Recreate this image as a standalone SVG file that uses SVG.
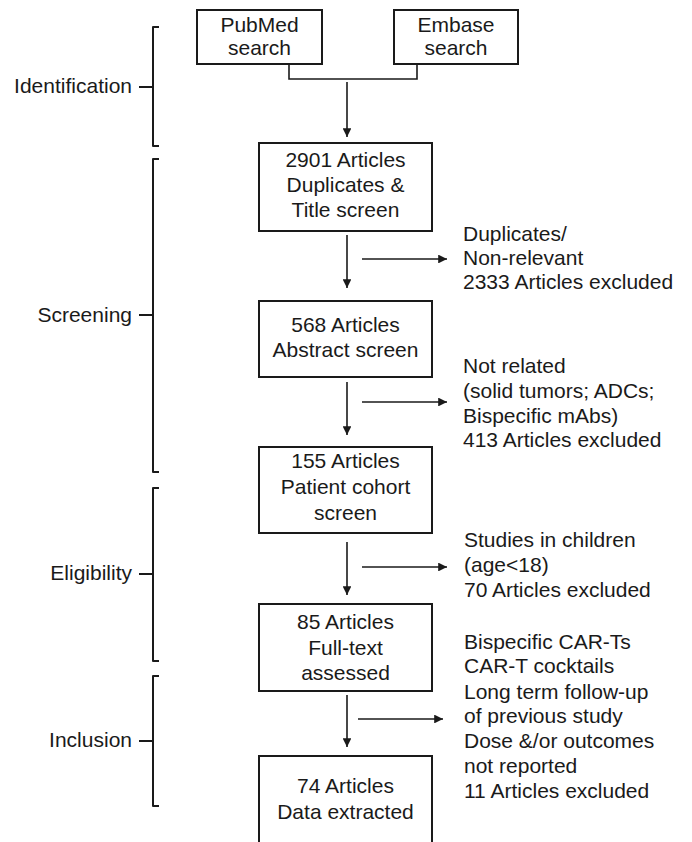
<svg xmlns="http://www.w3.org/2000/svg" width="692" height="842" viewBox="0 0 692 842">
<style>
text{font-family:"Liberation Sans",Arial,sans-serif;font-size:21px;fill:#1a1a1a}
.c{text-anchor:middle}
.r{text-anchor:end}
.box{fill:#fff;stroke:#1a1a1a;stroke-width:2}
.ln{fill:none;stroke:#1a1a1a;stroke-width:1.6}
.br{fill:none;stroke:#1a1a1a;stroke-width:2;stroke-linejoin:round}
</style>
<defs>
<marker id="ah" viewBox="0 0 10 10" refX="10" refY="5" markerWidth="6" markerHeight="5.5" orient="auto" markerUnits="strokeWidth">
<path d="M0,0 L10,5 L0,10 z" fill="#1a1a1a"/>
</marker>
</defs>
<rect width="692" height="842" fill="#fff"/>
<g id="phases">
<g id="identification"><path class="br" d="M159,27 H153 V146 H159 M153,87 H139"/><text class="r" x="132" y="93">Identification</text></g>
<g id="screening"><path class="br" d="M159,159 H153 V472 H159 M153,315 H139"/><text class="r" x="132" y="322">Screening</text></g>
<g id="eligibility"><path class="br" d="M159,488 H153 V661 H159 M153,574 H139"/><text class="r" x="132" y="580">Eligibility</text></g>
<g id="inclusion"><path class="br" d="M159,676 H153 V806 H159 M153,741 H139"/><text class="r" x="132" y="747">Inclusion</text></g>
</g>
<g id="connectors">
<path class="ln" d="M289,64 V79 H417 V64"/>
<path class="ln" d="M347,82 V137" marker-end="url(#ah)"/>
<path class="ln" d="M347,235 V288" marker-end="url(#ah)"/>
<path class="ln" d="M362,259 H447" marker-end="url(#ah)"/>
<path class="ln" d="M347,382 V435" marker-end="url(#ah)"/>
<path class="ln" d="M362,402 H447" marker-end="url(#ah)"/>
<path class="ln" d="M347,542 V595" marker-end="url(#ah)"/>
<path class="ln" d="M362,567 H447" marker-end="url(#ah)"/>
<path class="ln" d="M347,695 V747" marker-end="url(#ah)"/>
<path class="ln" d="M358,719 H443" marker-end="url(#ah)"/>
</g>
<g id="pubmed"><rect class="box" x="197" y="10" width="125" height="54"/><text class="c" x="259.5" y="32">PubMed</text><text class="c" x="259.5" y="55">search</text></g>
<g id="embase"><rect class="box" x="394" y="10" width="124" height="54"/><text class="c" x="456" y="32">Embase</text><text class="c" x="456" y="55">search</text></g>
<g id="n2901"><rect class="box" x="259" y="143" width="173" height="88"/><text class="c" x="345.5" y="167">2901 Articles</text><text class="c" x="345.5" y="192">Duplicates &amp;</text><text class="c" x="345.5" y="217">Title screen</text></g>
<g id="n568"><rect class="box" x="259" y="301" width="173" height="76"/><text class="c" x="345.5" y="332">568 Articles</text><text class="c" x="345.5" y="357">Abstract screen</text></g>
<g id="n155"><rect class="box" x="259" y="447" width="173" height="86"/><text class="c" x="345.5" y="468">155 Articles</text><text class="c" x="345.5" y="494">Patient cohort</text><text class="c" x="345.5" y="520">screen</text></g>
<g id="n85"><rect class="box" x="259" y="604" width="173" height="87"/><text class="c" x="345.5" y="629">85 Articles</text><text class="c" x="345.5" y="655">Full-text</text><text class="c" x="345.5" y="680">assessed</text></g>
<g id="n74"><rect class="box" x="259" y="756" width="173" height="100"/><text class="c" x="345.5" y="793">74 Articles</text><text class="c" x="345.5" y="819">Data extracted</text></g>
<g id="ex1"><text x="463" y="241">Duplicates/</text><text x="463" y="265">Non-relevant</text><text x="463" y="289">2333 Articles excluded</text></g>
<g id="ex2"><text x="463" y="373">Not related</text><text x="463" y="398">(solid tumors; ADCs;</text><text x="463" y="423">Bispecific mAbs)</text><text x="463" y="447">413 Articles excluded</text></g>
<g id="ex3"><text x="464" y="547">Studies in children</text><text x="464" y="572">(age&lt;18)</text><text x="464" y="597">70 Articles excluded</text></g>
<g id="ex4"><text x="464" y="649">Bispecific CAR-Ts</text><text x="464" y="673">CAR-T cocktails</text><text x="464" y="699">Long term follow-up</text><text x="464" y="723">of previous study</text><text x="464" y="748">Dose &amp;/or outcomes</text><text x="464" y="773">not reported</text><text x="464" y="798">11 Articles excluded</text></g>
</svg>
